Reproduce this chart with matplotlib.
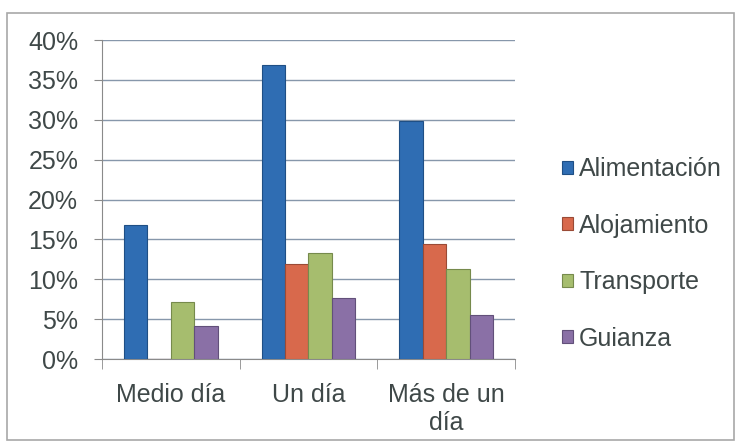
import numpy as np
from matplotlib import pyplot as plt
from matplotlib.patches import Rectangle
from matplotlib.ticker import PercentFormatter, FixedLocator

# Datos
categorias = ['Medio día', 'Un día', 'Más de un\ndía']
series = ['Alimentación', 'Alojamiento', 'Transporte', 'Guianza']
alimentacion = [16.8, 36.9, 29.9]
alojamiento = [0.0, 11.9, 14.4]
transporte = [7.1, 13.3, 11.3]
guianza = [4.1, 7.6, 5.5]
colores = ['#2f6db3', '#d8694c', '#a6bd6e', '#8a70a6']
bordes = ['#1f4f85', '#9a4a36', '#768a4c', '#62507a']
texto = '#3f4848'

plt.rcParams['font.family'] = ['Liberation Sans', 'DejaVu Sans']

fig = plt.figure(figsize=(7.38, 4.45), dpi=100)
fig.patches.append(Rectangle((0.010, 0.012), 0.985, 0.958, transform=fig.transFigure,
                             fill=False, edgecolor='#a8a8a8', linewidth=1.2))
ax = fig.add_axes([0.138, 0.193, 0.560, 0.717])

x = np.arange(len(categorias))
ancho = 0.17
valores = [alimentacion, alojamiento, transporte, guianza]
for i, (nombre, vals) in enumerate(zip(series, valores)):
    ax.bar(x + (i - 1.5) * ancho, vals, ancho, color=colores[i],
           edgecolor=bordes[i], linewidth=0.8, label=nombre, zorder=3)

# Formato de ejes
ax.set_xlim(-0.5, 2.5)
ax.set_ylim(0, 40)
ax.set_yticks(np.arange(0, 41, 5))
ax.yaxis.set_major_formatter(PercentFormatter(decimals=0))
ax.grid(axis='y', color='#8797ab', linewidth=1, zorder=0)
ax.set_xticks(x)
ax.set_xticklabels(categorias, linespacing=1.2)
ax.xaxis.set_minor_locator(FixedLocator([-0.5, 0.5, 1.5, 2.5]))
ax.tick_params(axis='x', which='major', length=0, pad=17, labelsize=18, colors=texto)
ax.tick_params(axis='x', which='minor', length=7, color='#8a8a8a')
ax.tick_params(axis='y', length=6, color='#8a8a8a', pad=11, labelsize=18, labelcolor=texto)
for s in ['top', 'right']:
    ax.spines[s].set_visible(False)
ax.spines['left'].set_color('#8a8a8a')
ax.spines['bottom'].set_color('#8a8a8a')

leg = ax.legend(loc='center left', bbox_to_anchor=(1.06, 0.33), frameon=False,
                fontsize=18, handlelength=0.42, handleheight=0.42, handletextpad=0.25,
                labelspacing=1.3)
for t in leg.get_texts():
    t.set_color(texto)

plt.savefig('out.png', dpi=100)
